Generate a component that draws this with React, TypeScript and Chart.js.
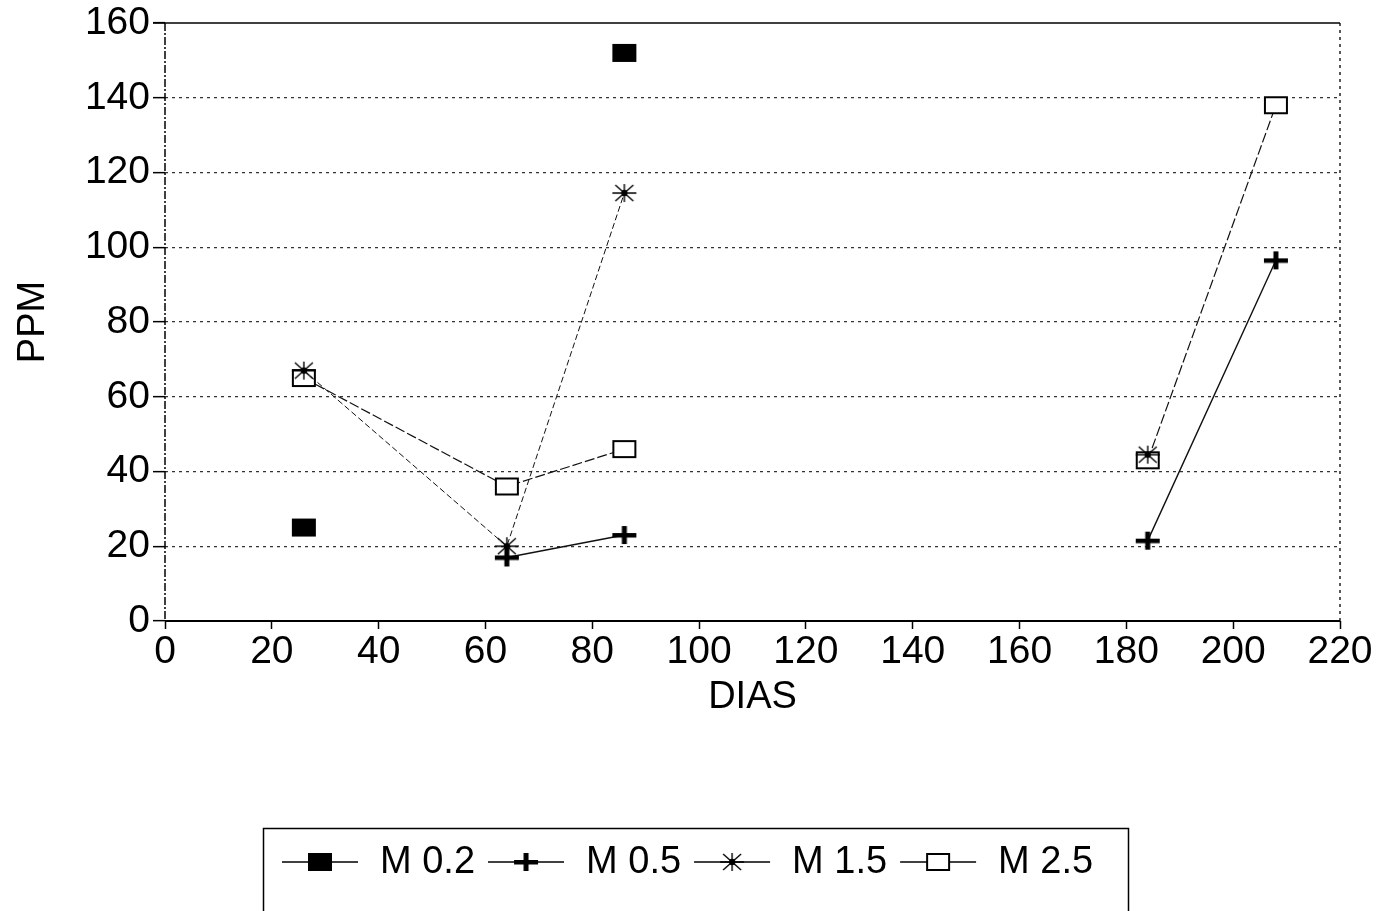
import React, { useEffect, useRef } from "react";
import { Chart, registerables } from "chart.js";

Chart.register(...registerables);

// ---------- data ----------
const DAYS = [26, 64, 86, 184, 208];
const SERIES_LABELS = ["M 0.2", "M 0.5", "M 1.5", "M 2.5"];
const M02 = [25, null, 152, null, null];
const M05 = [null, 17, 23, 21.5, 96.5];
const M15 = [67, 20, 114.5, 44.5, null];
const M25 = [65, 36, 46, 43, 138];
const X_MIN = 0;
const X_MAX = 220;
const X_STEP = 20;
const Y_MIN = 0;
const Y_MAX = 160;
const Y_STEP = 20;
const X_TITLE = "DIAS";
const Y_TITLE = "PPM";

const FONT = '"Liberation Sans", Arial, Helvetica, sans-serif';

type Kind = "filled" | "plus" | "star" | "open";

function makeMarker(kind: Kind): HTMLCanvasElement {
  const c = document.createElement("canvas");
  c.width = 28;
  c.height = 24;
  const g = c.getContext("2d")!;
  g.fillStyle = "#000";
  g.strokeStyle = "#000";
  if (kind === "filled") {
    g.fillRect(2, 3, 24, 18);
  } else if (kind === "open") {
    g.fillStyle = "#fff";
    g.fillRect(2, 3, 24, 18);
    g.lineWidth = 2;
    g.strokeRect(3, 4, 22, 16);
  } else if (kind === "plus") {
    g.fillRect(2, 10, 24, 4.5);
    g.fillRect(11.5, 3, 5, 18);
  } else {
    g.lineWidth = 1.4;
    g.beginPath();
    g.moveTo(2, 12); g.lineTo(26, 12);
    g.moveTo(14, 3); g.lineTo(14, 21);
    g.moveTo(5, 4); g.lineTo(23, 20);
    g.moveTo(23, 4); g.lineTo(5, 20);
    g.stroke();
    g.beginPath();
    g.arc(14, 12, 3.2, 0, Math.PI * 2);
    g.fill();
  }
  return c;
}

function pts(values: (number | null)[]) {
  return DAYS.map((d, i) => ({ x: d, y: values[i] }));
}

export default function App() {
  const ref = useRef<HTMLCanvasElement | null>(null);

  useEffect(() => {
    document.body.style.margin = "0";
    document.body.style.background = "#fff";
    const canvas = ref.current!;
    const markers: Record<Kind, HTMLCanvasElement> = {
      filled: makeMarker("filled"),
      plus: makeMarker("plus"),
      star: makeMarker("star"),
      open: makeMarker("open"),
    };
    const kinds: Kind[] = ["filled", "plus", "star", "open"];
    const values = [M02, M05, M15, M25];
    const lineStyles = [
      { w: 1.2, dash: [] as number[] },
      { w: 1.4, dash: [] as number[] },
      { w: 1, dash: [6, 3] },
      { w: 1.2, dash: [10, 3] },
    ];

    const frame = {
      id: "frame",
      beforeDatasetsDraw(chart: any) {
        const { ctx, chartArea: a } = chart;
        ctx.save();
        ctx.strokeStyle = "#000";
        ctx.lineWidth = 1.5;
        ctx.setLineDash([]);
        ctx.beginPath();
        ctx.moveTo(a.left - 12, a.top);
        ctx.lineTo(a.right, a.top);
        ctx.stroke();
        ctx.lineWidth = 2;
        ctx.beginPath();
        ctx.moveTo(a.left, a.bottom);
        ctx.lineTo(a.right, a.bottom);
        ctx.stroke();
        ctx.lineWidth = 1.5;
        ctx.setLineDash([8, 2, 2, 2]);
        ctx.beginPath();
        ctx.moveTo(a.left, a.top);
        ctx.lineTo(a.left, a.bottom);
        ctx.stroke();
        ctx.lineWidth = 1.3;
        ctx.setLineDash([3, 4]);
        ctx.beginPath();
        ctx.moveTo(a.right, a.top);
        ctx.lineTo(a.right, a.bottom);
        ctx.stroke();
        ctx.restore();
      },
    };

    const legendBox = {
      id: "legendBox",
      afterDraw(chart: any) {
        const { ctx } = chart;
        ctx.save();
        ctx.strokeStyle = "#000";
        ctx.lineWidth = 1.5;
        ctx.setLineDash([]);
        ctx.strokeRect(263.5, 828.5, 865, 120);
        ctx.font = `38px ${FONT}`;
        ctx.textBaseline = "middle";
        ctx.fillStyle = "#000";
        const y = 862;
        let x = 282;
        SERIES_LABELS.forEach((lab, i) => {
          ctx.lineWidth = 1.5;
          ctx.beginPath();
          ctx.moveTo(x, y);
          ctx.lineTo(x + 76, y);
          ctx.stroke();
          const m = markers[kinds[i]];
          ctx.drawImage(m, x + 38 - m.width / 2, y - m.height / 2);
          const tx = x + 98;
          ctx.fillText(lab, tx, y + 1);
          x = tx + ctx.measureText(lab).width + 13;
        });
        ctx.restore();
      },
    };

    const chart = new Chart(canvas, {
      type: "line",
      data: {
        datasets: SERIES_LABELS.map((label, i) => ({
          label,
          data: pts(values[i]),
          borderColor: "#111",
          borderWidth: lineStyles[i].w,
          borderDash: lineStyles[i].dash,
          backgroundColor: "#000",
          pointStyle: markers[kinds[i]],
          pointRadius: 12,
          pointHoverRadius: 12,
          spanGaps: 50,
          tension: 0,
          fill: false,
        })),
      },
      options: {
        animation: false,
        responsive: false,
        maintainAspectRatio: false,
        events: [],
        layout: { padding: { left: 0, right: 46, top: 23, bottom: 190.2 } },
        plugins: {
          legend: { display: false },
          tooltip: { enabled: false },
        },
        scales: {
          x: {
            type: "linear",
            min: X_MIN,
            max: X_MAX,
            ticks: {
              stepSize: X_STEP,
              color: "#000",
              padding: 0,
              font: { family: FONT, size: 39, lineHeight: 1.2 },
            },
            grid: {
              drawOnChartArea: false,
              drawTicks: true,
              tickLength: 8,
              tickColor: "#000",
              tickWidth: 1.5,
            },
            border: { display: false },
            title: {
              display: true,
              text: X_TITLE,
              color: "#000",
              padding: { top: 0, bottom: 0 },
              font: { family: FONT, size: 38, lineHeight: 1.2 },
            },
            afterFit(scale: any) {
              scale.height = 99.8;
            },
          },
          y: {
            type: "linear",
            min: Y_MIN,
            max: Y_MAX,
            ticks: {
              stepSize: Y_STEP,
              color: "#000",
              padding: 3,
              font: { family: FONT, size: 39, lineHeight: 1.0 },
            },
            grid: {
              color: (c: any) =>
                c.tick && (c.tick.value === Y_MIN || c.tick.value === Y_MAX)
                  ? "rgba(0,0,0,0)"
                  : "#333",
              lineWidth: 1.3,
              tickLength: 12,
              tickColor: "#000",
              tickWidth: 1.5,
              tickBorderDash: [],
              borderDash: [3, 4],
            } as any,
            border: { display: false, dash: [3, 4] },
            title: {
              display: true,
              text: Y_TITLE,
              color: "#000",
              padding: { top: 11, bottom: 0 },
              font: { family: FONT, size: 38, lineHeight: 1.2 },
            },
            afterFit(scale: any) {
              scale.width = 165;
            },
          },
        },
      } as any,
      plugins: [frame, legendBox],
    });

    return () => chart.destroy();
  }, []);

  return (
    <div style={{ width: 1386, height: 911 }}>
      <canvas ref={ref} width={1386} height={911} style={{ display: "block" }} />
    </div>
  );
}
